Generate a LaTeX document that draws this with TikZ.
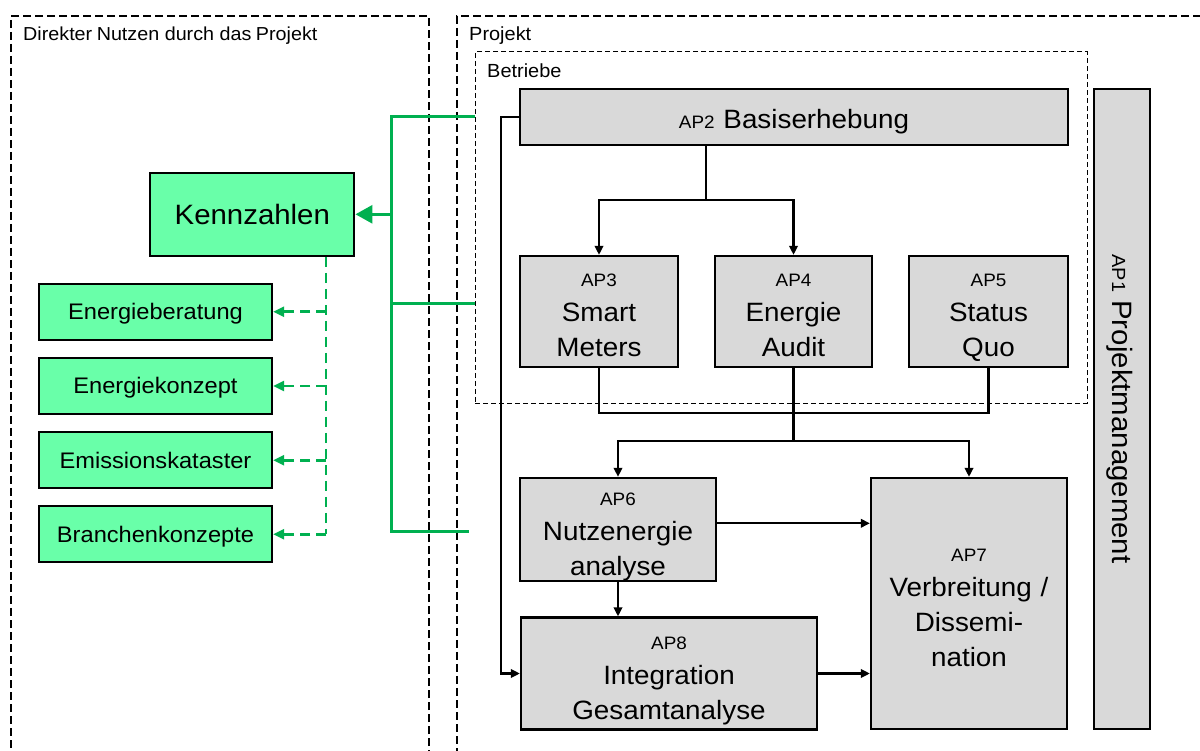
\documentclass[tikz,border=0pt]{standalone}
\usepackage{fontspec}
\setmainfont{Liberation Sans}[FakeStretch=1.05]
\usetikzlibrary{arrows.meta}
\definecolor{boxgray}{HTML}{D9D9D9}
\definecolor{lgreen}{HTML}{69FFA9}
\definecolor{dgreen}{HTML}{00B050}
\newcommand{\fsz}[1]{\fontsize{#1}{#1}\selectfont}
\newcommand{\bigf}{\fontsize{26.5}{35}\selectfont}
\newcommand{\apf}{\fontsize{18}{35}\selectfont}
\begin{document}
\begin{tikzpicture}[x=1pt,y=-1pt,
  apbox/.style={draw=black,line width=2.3pt,fill=boxgray,inner sep=0pt},
  gbox/.style={draw=black,line width=2.3pt,fill=lgreen,inner sep=0pt,text depth=0pt},
  txt/.style={inner sep=0pt,anchor=base,text width=300pt,align=center,font=\bigf},
  conn/.style={line width=2.1pt,draw=black},
  arr/.style={conn,-{Triangle[length=9pt,width=8.5pt]}},
  gline/.style={line width=3pt,draw=dgreen},
  garr/.style={gline,-{Triangle[length=17pt,width=18pt]}},
  gdash/.style={line width=2.5pt,draw=dgreen,dash pattern=on 10pt off 6pt},
  gdarr/.style={gdash,-{Triangle[length=11pt,width=10pt]}},
  outerbox/.style={draw=black,line width=2pt,dash pattern=on 8pt off 4pt,inner sep=0pt},
  innerbox/.style={draw=black,line width=1pt,dash pattern=on 5pt off 3pt,inner sep=0pt},
  lbl/.style={anchor=base west,inner sep=0pt},
]
\useasboundingbox (0,0) rectangle (1200,751);
\clip (0,0) rectangle (1200,751);
\fill[white] (0,0) rectangle (1200,751);

% frames
\node[outerbox,minimum width=418pt,minimum height=780pt,anchor=north west] (nutzen) at (10,15) {};
\node[outerbox,minimum width=780pt,minimum height=780pt,anchor=north west] (projekt) at (456,15) {};
\node[lbl,font=\fsz{18.8}] (nutzen-t) at (23,40.5) {Direkter\hspace{-1pt} Nutzen durch das\hspace{-1pt} Projekt};
\node[lbl,font=\fsz{19}] (projekt-t) at (469,40.5) {Projekt};
\node[innerbox,minimum width=612pt,minimum height=351pt] (betriebe) at (781,227.5) {};
\node[lbl,font=\fsz{19}] (betriebe-t) at (487,78) {Betriebe};

% work packages
\node[apbox,minimum width=548pt,minimum height=56pt] (ap2) at (794,117) {};
\node[txt] (ap2-t) at (794,128.3) {{\apf AP2} Basiserhebung};
\node[apbox,minimum width=56pt,minimum height=640pt] (ap1) at (1122,409) {};
\node[rotate=-90,anchor=base,inner sep=0pt,font=\fsz{28}] (ap1-t) at (1112,409) {{\fsz{19}AP1} Projektmanagement};

\node[apbox,minimum width=158pt,minimum height=111pt] (ap3) at (599,311.5) {};
\node[txt] (ap3-t) at (599,287) {{\apf AP3}\\Smart\\Meters};
\node[apbox,minimum width=157pt,minimum height=111pt] (ap4) at (793.5,311.5) {};
\node[txt] (ap4-t) at (793.5,287) {{\apf AP4}\\Energie\\Audit};
\node[apbox,minimum width=159pt,minimum height=111pt] (ap5) at (988.5,311.5) {};
\node[txt] (ap5-t) at (988.5,287) {{\apf AP5}\\Status\\Quo};

\node[apbox,minimum width=196pt,minimum height=102.7pt] (ap6) at (618,529.3) {};
\node[txt] (ap6-t) at (618,505) {{\apf AP6}\\Nutzenergie\\analyse};
\node[apbox,minimum width=196pt,minimum height=251pt] (ap7) at (969,603.5) {};
\node[txt] (ap7-t) at (969,561.5) {{\apf AP7}\\Verbreitung /\\Dissemi-\\nation};
\node[apbox,minimum width=296pt,minimum height=112pt] (ap8) at (669,673.5) {};
\node[txt] (ap8-t) at (669,649) {{\apf AP8}\\Integration\\Gesamtanalyse};

% benefits
\node[gbox,minimum width=204pt,minimum height=83pt,text height=20pt,font=\fsz{28}] (kenn) at (252.3,214.3) {Kennzahlen};
\node[gbox,minimum width=233pt,minimum height=56pt,text height=16pt,font=\fsz{22.5}] (eb) at (155.5,311.7) {Energieberatung};
\node[gbox,minimum width=233pt,minimum height=56pt,text height=16pt,font=\fsz{22.5}] (ek) at (155.5,386) {Energiekonzept};
\node[gbox,minimum width=233pt,minimum height=56pt,text height=16pt,font=\fsz{22.5}] (em) at (155.5,460.3) {Emissionskataster};
\node[gbox,minimum width=233pt,minimum height=56pt,text height=16pt,font=\fsz{22.5}] (bk) at (155.5,534.3) {Branchenkonzepte};

% black connectors
\coordinate (split1) at (706,200);
\draw[conn] (ap2.south -| split1) -- (split1);
\draw[arr] (split1) -| (ap3.north);
\draw[arr] (split1) -| (ap4.north);
\coordinate (m1) at (0,413);
\draw[conn] (ap3.south) |- (ap5.south |- m1) -- (ap5.south);
\coordinate (m2) at (793.5,441);
\draw[conn] (ap4.south) -- (m2);
\draw[arr] (m2) -| (ap6.north);
\draw[arr] (m2) -| (ap7.north);
\draw[arr] (ap6.south) -- (ap6.south |- ap8.north);
\draw[arr] ([yshift=6pt]ap6.east) -- ([yshift=6pt]ap6.east -| ap7.west);
\draw[arr] (ap8.east) -- (ap8.east -| ap7.west);
\draw[arr] (ap2.west) -- ++(-18,0) |- (ap8.west);

% green connectors
\coordinate (gtop) at (betriebe.west |- ap2.west);
\coordinate (gmid) at (475,304);
\coordinate (gbot) at (469,531);
\coordinate (gx) at (391,0);
\draw[gline] (gtop) -| (gx |- gbot) -- (gbot);
\draw[gline] (gmid) -- (gx |- gmid);
\draw[garr] (gx |- kenn.east) -- (kenn.east);

\coordinate (gd) at (326,0);
\draw[gdash] (kenn.south -| gd) -- (gd |- bk.east);
\foreach \n in {eb,ek,em,bk} {\draw[gdarr] (gd |- \n.east) -- (\n.east);}
\end{tikzpicture}
\end{document}
